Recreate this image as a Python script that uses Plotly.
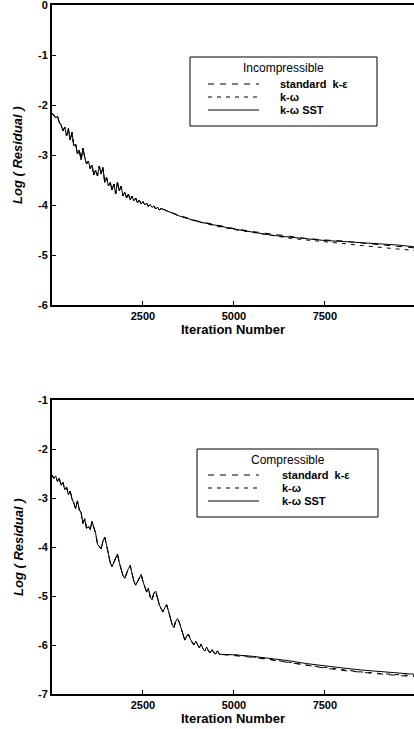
import plotly.graph_objects as go

W, H = 414, 729

# --- Incompressible case (top panel) ---
# early transient: the three models overlap here
inc_early_it = list(range(0, 3001, 50))
inc_early = [-2.17, -2.20, -2.26, -2.22, -2.35, -2.40, -2.52, -2.44, -2.62, -2.47,
             -2.70, -2.55, -2.82, -2.78, -2.98, -2.90, -3.10, -2.86, -3.05, -3.18,
             -3.12, -3.27, -3.20, -3.40, -3.30, -3.42, -3.22, -3.38, -3.25, -3.55,
             -3.45, -3.62, -3.55, -3.70, -3.58, -3.78, -3.54, -3.72, -3.62, -3.82,
             -3.74, -3.86, -3.78, -3.90, -3.82, -3.92, -3.86, -3.96, -3.90, -3.98,
             -3.93, -4.00, -3.96, -4.03, -3.99, -4.05, -4.02, -4.08, -4.04, -4.10,
             -4.07]
inc_tail_it = [3250, 3500, 4000, 4500, 5000, 5500, 6000, 6500, 7000, 7500, 8000,
               8500, 9000, 9500, 10000]
inc_ke_tail = [-4.14, -4.21, -4.32, -4.40, -4.47, -4.53, -4.58, -4.63, -4.67, -4.70,
               -4.72, -4.76, -4.79, -4.82, -4.86]
inc_kw_tail = [-4.15, -4.22, -4.33, -4.42, -4.49, -4.55, -4.60, -4.66, -4.70, -4.73,
               -4.77, -4.81, -4.85, -4.88, -4.91]
inc_sst_tail = [-4.14, -4.22, -4.33, -4.41, -4.48, -4.54, -4.60, -4.64, -4.68, -4.71,
                -4.73, -4.75, -4.77, -4.80, -4.84]

# --- Compressible case (bottom panel) ---
com_early_it = list(range(0, 4601, 50))
com_early = [-2.53, -2.60, -2.55, -2.66, -2.60, -2.74, -2.68, -2.83, -2.78, -2.93,
             -2.86, -3.02, -3.10, -3.22, -3.06, -3.24, -3.30, -3.52, -3.42, -3.62,
             -3.58, -3.64, -3.48, -3.60, -3.72, -3.94, -3.98, -4.04, -3.88, -3.80,
             -3.96, -4.12, -4.32, -4.40, -4.30, -4.22, -4.14, -4.32, -4.44, -4.58,
             -4.64, -4.52, -4.44, -4.38, -4.56, -4.70, -4.78, -4.70, -4.64, -4.56,
             -4.70, -4.82, -4.92, -4.84, -5.02, -5.08, -4.94, -4.90, -5.06, -5.18,
             -5.26, -5.32, -5.24, -5.18, -5.30, -5.42, -5.58, -5.64, -5.52, -5.46,
             -5.54, -5.66, -5.80, -5.90, -5.82, -5.78, -5.88, -5.94, -6.00, -5.92,
             -6.00, -6.06, -5.98, -6.08, -6.12, -6.04, -6.12, -6.16, -6.09, -6.16,
             -6.18, -6.12, -6.19]
com_tail_it = [5000, 5500, 6000, 6500, 7000, 7500, 8000, 8500, 9000, 9500, 10000]
com_ke_tail = [-6.21, -6.25, -6.30, -6.36, -6.42, -6.47, -6.52, -6.56, -6.59, -6.62,
               -6.65]
com_kw_tail = [-6.20, -6.24, -6.29, -6.35, -6.41, -6.46, -6.51, -6.55, -6.58, -6.61,
               -6.63]
com_sst_tail = [-6.20, -6.23, -6.27, -6.32, -6.38, -6.43, -6.47, -6.51, -6.54, -6.57,
                -6.60]

labels = ["standard  k-ε", "k-ω", "k-ω SST"]
dashes = ["6px,6px", "4px,5px", "solid"]
x_ticks = [2500, 5000, 7500]
inc_y_ticks = [0, -1, -2, -3, -4, -5, -6]
com_y_ticks = [-1, -2, -3, -4, -5, -6, -7]
FONT = "Liberation Sans, Arial, sans-serif"

fig = go.Figure()

# Top panel traces
for tail, name, dash in zip([inc_ke_tail, inc_kw_tail, inc_sst_tail], labels, dashes):
    fig.add_trace(go.Scatter(x=inc_early_it + inc_tail_it, y=inc_early + tail,
                             mode="lines", name=name, showlegend=False,
                             line=dict(color="black", width=1, dash=dash),
                             xaxis="x", yaxis="y"))
# Bottom panel traces
for tail, name, dash in zip([com_ke_tail, com_kw_tail, com_sst_tail], labels, dashes):
    fig.add_trace(go.Scatter(x=com_early_it + com_tail_it, y=com_early + tail,
                             mode="lines", name=name, showlegend=False,
                             line=dict(color="black", width=1, dash=dash),
                             xaxis="x2", yaxis="y2"))

axis_common = dict(showline=True, linecolor="black", linewidth=2, showgrid=False,
                   zeroline=False, ticks="inside", ticklen=4, tickcolor="black",
                   automargin=False, ticklabeloverflow="allow",
                   tickfont=dict(family=FONT, size=11, color="black"))


def bold_ticks(vals):
    # plain hyphen like the original print, not the unicode minus
    return [f"<b>{v}</b>" for v in vals]


xax = dict(axis_common, range=[0, 9950], tickvals=x_ticks,
           ticktext=bold_ticks(x_ticks), mirror=True, domain=[52 / W, 1.0],
           title=dict(text="<b>Iteration Number</b>", standoff=2,
                      font=dict(family=FONT, size=13, color="black")))


# hand-drawn legend boxes (paper coordinates from pixel positions)
def px(x):
    return x / W


def py(y):
    return 1 - y / H


shapes = []
annotations = []
for title, box, title_y, rows_y, text_x in [
    ("Incompressible", (190, 57, 377, 126), 68, (84, 97, 110), 278),
    ("Compressible", (197, 449, 378, 517), 460, (475, 488, 501), 280),
]:
    x0, y0, x1, y1 = box
    shapes.append(dict(type="rect", xref="paper", yref="paper",
                       x0=px(x0), x1=px(x1), y0=py(y1), y1=py(y0),
                       line=dict(color="black", width=1), fillcolor="white", layer="above"))
    annotations.append(dict(text=title, x=px((x0 + x1) / 2), y=py(title_y),
                            xanchor="center", yanchor="middle",
                            xref="paper", yref="paper", showarrow=False,
                            font=dict(family=FONT, size=12, color="black")))
    for name, dash, ry in zip(labels, dashes, rows_y):
        shapes.append(dict(type="line", xref="paper", yref="paper",
                           x0=px(208), x1=px(259), y0=py(ry), y1=py(ry),
                           line=dict(color="black", width=1, dash=dash), layer="above"))
        annotations.append(dict(text=f"<b>{name}</b>", x=px(text_x), y=py(ry),
                                xanchor="left", yanchor="middle",
                                xref="paper", yref="paper", showarrow=False,
                                font=dict(family=FONT, size=11, color="black")))

for yc in (155, 547):
    annotations.append(dict(text="<b><i>Log ( Residual )</i></b>", textangle=-90,
                            x=px(18), y=py(yc), xanchor="center", yanchor="middle",
                            xref="paper", yref="paper", showarrow=False,
                            font=dict(family=FONT, size=13, color="black")))

fig.update_layout(
    width=W, height=H,
    margin=dict(l=0, r=0, t=0, b=0, autoexpand=False),
    paper_bgcolor="white", plot_bgcolor="white",
    showlegend=False,
    xaxis=dict(xax, anchor="y"),
    yaxis=dict(axis_common, range=[-6, 0], tickvals=inc_y_ticks,
               ticktext=bold_ticks(inc_y_ticks), domain=[py(305), py(5)], anchor="x"),
    xaxis2=dict(xax, anchor="y2"),
    yaxis2=dict(axis_common, range=[-7, -1], tickvals=com_y_ticks,
                ticktext=bold_ticks(com_y_ticks), domain=[py(694), py(400)], anchor="x2"),
    shapes=shapes,
    annotations=annotations,
)

# drop the browser's default 8px body margin so the figure fills the window
fig.write_html("out.html", config={"displayModeBar": False},
               post_script="document.body.style.margin = '0';")
